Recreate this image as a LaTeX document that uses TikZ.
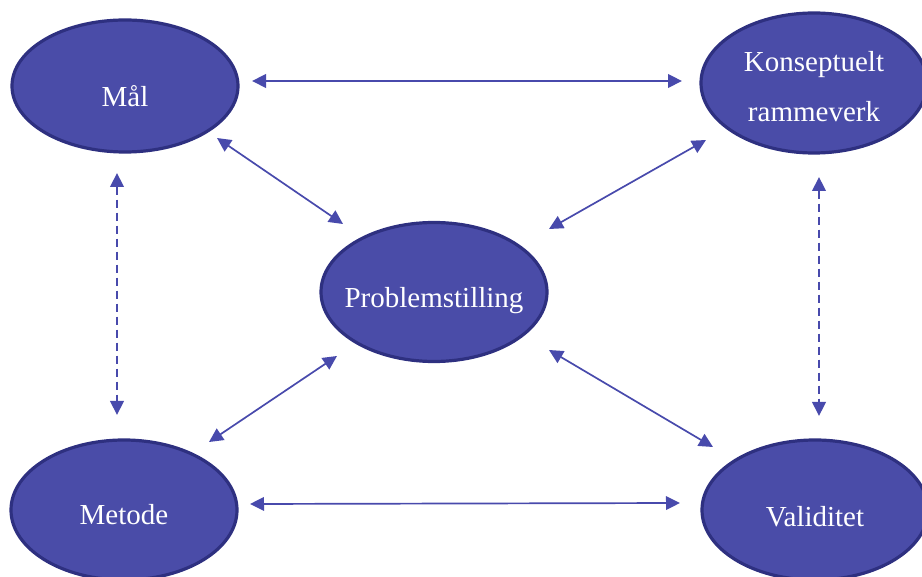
\documentclass[tikz,border=0pt]{standalone}
\usepackage{fontspec}
\setmainfont{Liberation Serif}
\usetikzlibrary{shapes.geometric,arrows.meta}
\definecolor{efill}{RGB}{74,76,168}
\definecolor{eborder}{RGB}{46,48,128}
\definecolor{arr}{RGB}{72,74,172}
\tikzset{
  blob/.style={ellipse, fill=efill, draw=eborder, line width=1.6pt, inner sep=0pt,
    minimum width=113pt},
  txt/.style={text=white, align=center, inner sep=0pt, font=\fontsize{14.5}{25}\selectfont},
  link/.style={arr, line width=0.85pt, {Triangle[length=7pt,width=6.8pt]}-{Triangle[length=7pt,width=6.8pt]}},
  dlink/.style={link, dash pattern=on 4pt off 2.5pt}
}
\begin{document}
\begin{tikzpicture}[x=0.5pt,y=-0.5pt]
\useasboundingbox (0,0) rectangle (922,577);
\node[blob, minimum height=66pt, label={[txt,yshift=-5pt]center:Mål}] (mal) at (125,86) {};
\node[blob, minimum height=70pt, label={[txt,yshift=-2pt]center:Konseptuelt\\rammeverk}] (kons) at (814,83) {};
\node[blob, minimum height=69.5pt, label={[txt,yshift=-4.5pt]center:Problemstilling}] (prob) at (434,292) {};
\node[blob, minimum height=70pt, label={[txt,yshift=-2.5pt]center:Metode}] (met) at (124,510) {};
\node[blob, minimum height=70pt, label={[txt,yshift=-3.5pt]center:Validitet}] (val) at (815,510) {};
% horizontal
\draw[link] ([shift={(127,-5)}]mal.center) -- ([shift={(-132,-2)}]kons.center);
\draw[link] ([shift={(126,-6)}]met.center) -- ([shift={(-135,-7)}]val.center);
% dashed vertical
\draw[dlink] ([shift={(-8,87)}]mal.center) -- ([shift={(-7,-95)}]met.center);
\draw[dlink] ([shift={(5,94)}]kons.center) -- ([shift={(4,-94)}]val.center);
% diagonals
\draw[link] ([shift={(92,52)}]mal.center) -- ([shift={(-91,-68)}]prob.center);
\draw[link] ([shift={(-108,57)}]kons.center) -- ([shift={(115,-63)}]prob.center);
\draw[link] ([shift={(85,-68)}]met.center) -- ([shift={(-97,64)}]prob.center);
\draw[link] ([shift={(-102,-63)}]val.center) -- ([shift={(115,58)}]prob.center);
\end{tikzpicture}
\end{document}
